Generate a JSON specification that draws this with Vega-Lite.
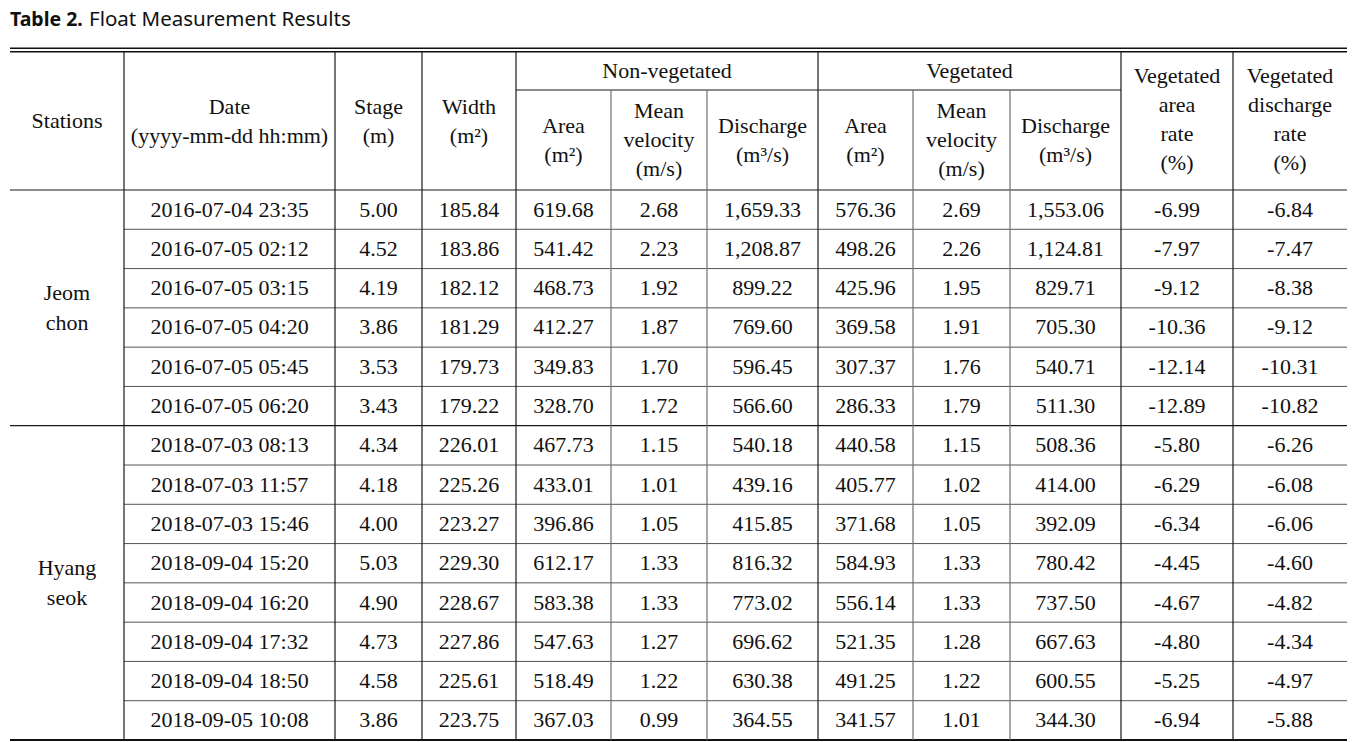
{
  "$schema": "https://vega.github.io/schema/vega-lite/v6.json",
  "width": 1366,
  "height": 742,
  "padding": 0,
  "autosize": {"type": "none"},
  "background": "white",
  "config": {
    "view": {"stroke": null},
    "axis": {"disable": true},
    "locale": {"number": {"decimal": ".", "thousands": ",", "grouping": [3], "currency": ["$", ""], "minus": "-"}},
    "text": {"font": "Liberation Serif", "fontSize": 22, "color": "#111111"}
  },
  "datasets": {
    "rows": [
      {"station": "Jeom chon", "r": 1, "date": "2016-07-04 23:35", "stage": 5.00, "width": 185.84, "nv_area": 619.68, "nv_vel": 2.68, "nv_q": 1659.33, "v_area": 576.36, "v_vel": 2.69, "v_q": 1553.06, "area_rate": -6.99, "q_rate": -6.84},
      {"station": "Jeom chon", "r": 2, "date": "2016-07-05 02:12", "stage": 4.52, "width": 183.86, "nv_area": 541.42, "nv_vel": 2.23, "nv_q": 1208.87, "v_area": 498.26, "v_vel": 2.26, "v_q": 1124.81, "area_rate": -7.97, "q_rate": -7.47},
      {"station": "Jeom chon", "r": 3, "date": "2016-07-05 03:15", "stage": 4.19, "width": 182.12, "nv_area": 468.73, "nv_vel": 1.92, "nv_q": 899.22, "v_area": 425.96, "v_vel": 1.95, "v_q": 829.71, "area_rate": -9.12, "q_rate": -8.38},
      {"station": "Jeom chon", "r": 4, "date": "2016-07-05 04:20", "stage": 3.86, "width": 181.29, "nv_area": 412.27, "nv_vel": 1.87, "nv_q": 769.60, "v_area": 369.58, "v_vel": 1.91, "v_q": 705.30, "area_rate": -10.36, "q_rate": -9.12},
      {"station": "Jeom chon", "r": 5, "date": "2016-07-05 05:45", "stage": 3.53, "width": 179.73, "nv_area": 349.83, "nv_vel": 1.70, "nv_q": 596.45, "v_area": 307.37, "v_vel": 1.76, "v_q": 540.71, "area_rate": -12.14, "q_rate": -10.31},
      {"station": "Jeom chon", "r": 6, "date": "2016-07-05 06:20", "stage": 3.43, "width": 179.22, "nv_area": 328.70, "nv_vel": 1.72, "nv_q": 566.60, "v_area": 286.33, "v_vel": 1.79, "v_q": 511.30, "area_rate": -12.89, "q_rate": -10.82},
      {"station": "Hyang seok", "r": 7, "date": "2018-07-03 08:13", "stage": 4.34, "width": 226.01, "nv_area": 467.73, "nv_vel": 1.15, "nv_q": 540.18, "v_area": 440.58, "v_vel": 1.15, "v_q": 508.36, "area_rate": -5.80, "q_rate": -6.26},
      {"station": "Hyang seok", "r": 8, "date": "2018-07-03 11:57", "stage": 4.18, "width": 225.26, "nv_area": 433.01, "nv_vel": 1.01, "nv_q": 439.16, "v_area": 405.77, "v_vel": 1.02, "v_q": 414.00, "area_rate": -6.29, "q_rate": -6.08},
      {"station": "Hyang seok", "r": 9, "date": "2018-07-03 15:46", "stage": 4.00, "width": 223.27, "nv_area": 396.86, "nv_vel": 1.05, "nv_q": 415.85, "v_area": 371.68, "v_vel": 1.05, "v_q": 392.09, "area_rate": -6.34, "q_rate": -6.06},
      {"station": "Hyang seok", "r": 10, "date": "2018-09-04 15:20", "stage": 5.03, "width": 229.30, "nv_area": 612.17, "nv_vel": 1.33, "nv_q": 816.32, "v_area": 584.93, "v_vel": 1.33, "v_q": 780.42, "area_rate": -4.45, "q_rate": -4.60},
      {"station": "Hyang seok", "r": 11, "date": "2018-09-04 16:20", "stage": 4.90, "width": 228.67, "nv_area": 583.38, "nv_vel": 1.33, "nv_q": 773.02, "v_area": 556.14, "v_vel": 1.33, "v_q": 737.50, "area_rate": -4.67, "q_rate": -4.82},
      {"station": "Hyang seok", "r": 12, "date": "2018-09-04 17:32", "stage": 4.73, "width": 227.86, "nv_area": 547.63, "nv_vel": 1.27, "nv_q": 696.62, "v_area": 521.35, "v_vel": 1.28, "v_q": 667.63, "area_rate": -4.80, "q_rate": -4.34},
      {"station": "Hyang seok", "r": 13, "date": "2018-09-04 18:50", "stage": 4.58, "width": 225.61, "nv_area": 518.49, "nv_vel": 1.22, "nv_q": 630.38, "v_area": 491.25, "v_vel": 1.22, "v_q": 600.55, "area_rate": -5.25, "q_rate": -4.97},
      {"station": "Hyang seok", "r": 14, "date": "2018-09-05 10:08", "stage": 3.86, "width": 223.75, "nv_area": 367.03, "nv_vel": 0.99, "nv_q": 364.55, "v_area": 341.57, "v_vel": 1.01, "v_q": 344.30, "area_rate": -6.94, "q_rate": -5.88}
    ],
    "columns": [
      {"key": "stage", "c": 2}, {"key": "width", "c": 3},
      {"key": "nv_area", "c": 4}, {"key": "nv_vel", "c": 5}, {"key": "nv_q", "c": 6},
      {"key": "v_area", "c": 7}, {"key": "v_vel", "c": 8}, {"key": "v_q", "c": 9},
      {"key": "area_rate", "c": 10}, {"key": "q_rate", "c": 11}
    ],
    "headers": [
      {"label": "Stations", "c": 0, "r": -1, "lines": 1, "level": "main"},
      {"label": "Date\n(yyyy-mm-dd hh:mm)", "c": 1, "r": -1, "lines": 2, "level": "main"},
      {"label": "Stage\n(m)", "c": 2, "r": -1, "lines": 2, "level": "main"},
      {"label": "Width\n(m²)", "c": 3, "r": -1, "lines": 2, "level": "main"},
      {"label": "Non-vegetated", "c": 5, "r": -2, "lines": 1, "level": "group"},
      {"label": "Vegetated", "c": 8, "r": -2, "lines": 1, "level": "group"},
      {"label": "Area\n(m²)", "c": 4, "r": 0, "lines": 2, "level": "sub"},
      {"label": "Mean\nvelocity\n(m/s)", "c": 5, "r": 0, "lines": 3, "level": "sub"},
      {"label": "Discharge\n(m³/s)", "c": 6, "r": 0, "lines": 2, "level": "sub"},
      {"label": "Area\n(m²)", "c": 7, "r": 0, "lines": 2, "level": "sub"},
      {"label": "Mean\nvelocity\n(m/s)", "c": 8, "r": 0, "lines": 3, "level": "sub"},
      {"label": "Discharge\n(m³/s)", "c": 9, "r": 0, "lines": 2, "level": "sub"},
      {"label": "Vegetated\narea\nrate\n(%)", "c": 10, "r": -1, "lines": 4, "level": "main"},
      {"label": "Vegetated\ndischarge\nrate\n(%)", "c": 11, "r": -1, "lines": 4, "level": "main"}
    ],
    "title": [
      {"part": "bold", "t": "Table 2."},
      {"part": "rest", "t": "Float Measurement Results"}
    ],
    "hrules": [
      {"at": -3, "from": 0, "to": 12, "kind": "frame"},
      {"at": -2, "from": 0, "to": 12, "kind": "frame"},
      {"at": -1, "from": 4, "to": 10, "kind": "main"},
      {"at": 0, "from": 0, "to": 12, "kind": "main"},
      {"at": 1, "from": 1, "to": 12, "kind": "row"},
      {"at": 2, "from": 1, "to": 12, "kind": "row"},
      {"at": 3, "from": 1, "to": 12, "kind": "row"},
      {"at": 4, "from": 1, "to": 12, "kind": "row"},
      {"at": 5, "from": 1, "to": 12, "kind": "row"},
      {"at": 6, "from": 0, "to": 12, "kind": "main"},
      {"at": 7, "from": 1, "to": 12, "kind": "row"},
      {"at": 8, "from": 1, "to": 12, "kind": "row"},
      {"at": 9, "from": 1, "to": 12, "kind": "row"},
      {"at": 10, "from": 1, "to": 12, "kind": "row"},
      {"at": 11, "from": 1, "to": 12, "kind": "row"},
      {"at": 12, "from": 1, "to": 12, "kind": "row"},
      {"at": 13, "from": 1, "to": 12, "kind": "row"},
      {"at": 14, "from": 0, "to": 12, "kind": "end"}
    ],
    "vrules": [
      {"at": 1, "from": -2, "to": 14, "kind": "main"},
      {"at": 2, "from": -2, "to": 14, "kind": "main"},
      {"at": 3, "from": -2, "to": 14, "kind": "main"},
      {"at": 4, "from": -2, "to": 14, "kind": "main"},
      {"at": 5, "from": -1, "to": 14, "kind": "sub"},
      {"at": 6, "from": -1, "to": 14, "kind": "sub"},
      {"at": 7, "from": -2, "to": 14, "kind": "main"},
      {"at": 8, "from": -1, "to": 14, "kind": "sub"},
      {"at": 9, "from": -1, "to": 14, "kind": "sub"},
      {"at": 10, "from": -2, "to": 14, "kind": "main"},
      {"at": 11, "from": -2, "to": 14, "kind": "main"}
    ]
  },
  "layer": [
    {
      "layer": [
        {
          "data": {"name": "hrules"},
          "transform": [{"filter": "datum.kind === 'frame'"}],
          "mark": {"type": "rule", "color": "#111111", "strokeWidth": 1.4},
          "encoding": {
            "y": {"field": "at", "type": "quantitative", "scale": {"type": "linear", "domain": [-3, -2, -1, 0, 14], "range": [48.3, 51.7, 90, 190, 740], "zero": false, "nice": false}},
            "x": {"field": "from", "type": "quantitative", "scale": {"type": "linear", "domain": [0, 1, 2, 3, 4, 5, 6, 7, 8, 9, 10, 11, 12], "range": [10, 124, 335, 422, 516, 611, 707, 818, 913, 1010, 1121, 1233, 1347], "zero": false, "nice": false}},
            "x2": {"field": "to"}
          }
        },
        {
          "data": {"name": "hrules"},
          "transform": [{"filter": "datum.kind === 'main'"}],
          "mark": {"type": "rule", "color": "#1a1a1a", "strokeWidth": 1.2},
          "encoding": {
            "y": {"field": "at", "type": "quantitative"},
            "x": {"field": "from", "type": "quantitative"},
            "x2": {"field": "to"}
          }
        },
        {
          "data": {"name": "hrules"},
          "transform": [{"filter": "datum.kind === 'row'"}],
          "mark": {"type": "rule", "color": "#555555", "strokeWidth": 1},
          "encoding": {
            "y": {"field": "at", "type": "quantitative"},
            "x": {"field": "from", "type": "quantitative"},
            "x2": {"field": "to"}
          }
        },
        {
          "data": {"name": "hrules"},
          "transform": [{"filter": "datum.kind === 'end'"}],
          "mark": {"type": "rule", "color": "#111111", "strokeWidth": 2},
          "encoding": {
            "y": {"field": "at", "type": "quantitative"},
            "x": {"field": "from", "type": "quantitative"},
            "x2": {"field": "to"}
          }
        },
        {
          "data": {"name": "vrules"},
          "transform": [{"filter": "datum.kind === 'main'"}],
          "mark": {"type": "rule", "color": "#1a1a1a", "strokeWidth": 1.2},
          "encoding": {
            "x": {"field": "at", "type": "quantitative"},
            "y": {"field": "from", "type": "quantitative"},
            "y2": {"field": "to"}
          }
        },
        {
          "data": {"name": "vrules"},
          "transform": [{"filter": "datum.kind === 'sub'"}],
          "mark": {"type": "rule", "color": "#707070", "strokeWidth": 1.2},
          "encoding": {
            "x": {"field": "at", "type": "quantitative"},
            "y": {"field": "from", "type": "quantitative"},
            "y2": {"field": "to"}
          }
        }
      ]
    },
    {
      "layer": [
        {
          "data": {"name": "rows"},
          "transform": [
            {"fold": ["stage", "width", "nv_area", "nv_vel", "nv_q", "v_area", "v_vel", "v_q", "area_rate", "q_rate"], "as": ["key", "value"]},
            {"lookup": "key", "from": {"data": {"name": "columns"}, "key": "key", "fields": ["c"]}}
          ],
          "mark": {"type": "text", "align": "center", "baseline": "middle", "font": "Liberation Serif"},
          "encoding": {
            "x": {"field": "c", "type": "quantitative", "scale": {"type": "linear", "domain": [-1, 0, 1, 2, 3, 4, 5, 6, 7, 8, 9, 10, 11], "range": [10, 67, 229.5, 378.5, 469, 563.5, 659, 762.5, 865.5, 961.5, 1065.5, 1177, 1290], "zero": false, "nice": false}},
            "y": {"field": "r", "type": "quantitative", "scale": {"type": "linear", "domain": [-3, -2, -1, 0, 1, 14], "range": [20, 71, 121, 140, 209.6, 720.4], "zero": false, "nice": false}},
            "text": {"field": "value", "type": "quantitative", "format": ",.2f"}
          }
        },
        {
          "data": {"name": "rows"},
          "mark": {"type": "text", "align": "center", "baseline": "middle", "font": "Liberation Serif"},
          "encoding": {
            "x": {"datum": 1, "type": "quantitative"},
            "y": {"field": "r", "type": "quantitative"},
            "text": {"field": "date", "type": "nominal"}
          }
        },
        {
          "data": {"name": "rows"},
          "transform": [{"aggregate": [{"op": "mean", "field": "r", "as": "r"}], "groupby": ["station"]}],
          "mark": {"type": "text", "align": "center", "baseline": "middle", "font": "Liberation Serif", "lineBreak": " ", "lineHeight": 30, "dy": -15},
          "encoding": {
            "x": {"datum": 0, "type": "quantitative"},
            "y": {"field": "r", "type": "quantitative"},
            "text": {"field": "station", "type": "nominal"}
          }
        },
        {
          "data": {"name": "headers"},
          "transform": [{"filter": "datum.level !== 'group' && datum.lines === 1"}],
          "mark": {"type": "text", "align": "center", "baseline": "middle", "font": "Liberation Serif", "lineBreak": "\n", "lineHeight": 29},
          "encoding": {
            "x": {"field": "c", "type": "quantitative"},
            "y": {"field": "r", "type": "quantitative"},
            "text": {"field": "label", "type": "nominal"}
          }
        },
        {
          "data": {"name": "headers"},
          "transform": [{"filter": "datum.level !== 'group' && datum.lines === 2"}],
          "mark": {"type": "text", "align": "center", "baseline": "middle", "font": "Liberation Serif", "lineBreak": "\n", "lineHeight": 29, "dy": -14.5},
          "encoding": {
            "x": {"field": "c", "type": "quantitative"},
            "y": {"field": "r", "type": "quantitative"},
            "text": {"field": "label", "type": "nominal"}
          }
        },
        {
          "data": {"name": "headers"},
          "transform": [{"filter": "datum.level !== 'group' && datum.lines === 3"}],
          "mark": {"type": "text", "align": "center", "baseline": "middle", "font": "Liberation Serif", "lineBreak": "\n", "lineHeight": 29, "dy": -29},
          "encoding": {
            "x": {"field": "c", "type": "quantitative"},
            "y": {"field": "r", "type": "quantitative"},
            "text": {"field": "label", "type": "nominal"}
          }
        },
        {
          "data": {"name": "headers"},
          "transform": [{"filter": "datum.level !== 'group' && datum.lines === 4"}],
          "mark": {"type": "text", "align": "center", "baseline": "middle", "font": "Liberation Serif", "lineBreak": "\n", "lineHeight": 29, "dy": -45},
          "encoding": {
            "x": {"field": "c", "type": "quantitative"},
            "y": {"field": "r", "type": "quantitative"},
            "text": {"field": "label", "type": "nominal"}
          }
        },
        {
          "data": {"name": "headers"},
          "transform": [{"filter": "datum.level === 'group'"}],
          "mark": {"type": "text", "align": "center", "baseline": "middle", "font": "Liberation Serif", "dx": 8},
          "encoding": {
            "x": {"field": "c", "type": "quantitative"},
            "y": {"field": "r", "type": "quantitative"},
            "text": {"field": "label", "type": "nominal"}
          }
        },
        {
          "data": {"name": "title"},
          "transform": [{"filter": "datum.part === 'bold'"}],
          "mark": {"type": "text", "align": "left", "baseline": "middle", "font": "Noto Sans", "fontSize": 19.5, "fontWeight": "bold", "color": "#111111"},
          "encoding": {
            "x": {"datum": -1, "type": "quantitative"},
            "y": {"datum": -3, "type": "quantitative"},
            "text": {"field": "t", "type": "nominal"}
          }
        },
        {
          "data": {"name": "title"},
          "transform": [{"filter": "datum.part === 'rest'"}],
          "mark": {"type": "text", "align": "left", "baseline": "middle", "font": "Noto Sans", "fontSize": 20.5, "dx": 79, "color": "#111111"},
          "encoding": {
            "x": {"datum": -1, "type": "quantitative"},
            "y": {"datum": -3, "type": "quantitative"},
            "text": {"field": "t", "type": "nominal"}
          }
        }
      ]
    }
  ],
  "resolve": {"scale": {"x": "independent", "y": "independent"}}
}
